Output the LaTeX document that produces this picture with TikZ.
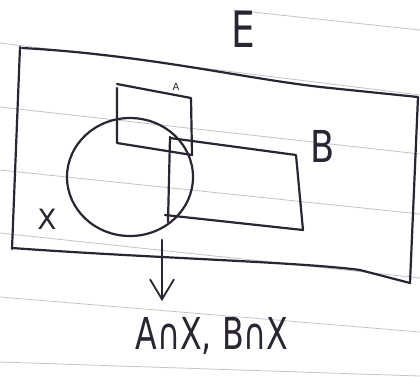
\documentclass[tikz,border=0pt]{standalone}
\usepackage{fontspec}
\setmainfont{DejaVu Sans}
\usetikzlibrary{arrows.meta,shapes.geometric}
\definecolor{ink}{HTML}{2B2433}
\definecolor{rule}{HTML}{9A9AA8}
\begin{document}
\begin{tikzpicture}[x=1pt,y=-1pt,
  pen/.style={draw=ink,line width=2.2pt,line join=round,line cap=round},
  ruled/.style={draw=rule,line width=0.8pt,opacity=0.6},
  lbl/.style={text=ink,inner sep=0pt}]
\useasboundingbox (0,0) rectangle (420,376);
% ruled paper lines
\draw[ruled] (233,10) -- (420,30);
\draw[ruled] (0,43) -- (420,95);
\draw[ruled] (0,107) -- (420,154);
\draw[ruled] (0,170) -- (420,214);
\draw[ruled] (0,233) -- (420,278);
\draw[ruled] (0,297) -- (420,332);
\draw[ruled] (0,362) -- (420,376);
% universe E
\draw[pen] (20,47) -- (12,249);
\draw[pen] (22,48) .. controls (150,55) and (250,80) .. (330,88) -- (418,97) -- (410,283);
\draw[pen] (12,248) .. controls (150,258) and (300,262) .. (360,270) -- (410,283);
% rectangle A
\draw[pen] (117,88) -- (117,143) -- (192,155) -- (191,98) -- (117,84);
% rectangle B
\draw[pen] (170,137) -- (168,222);
\draw[pen] (170,138) -- (296,155) -- (303,230) -- (165,215);
% circle X
\node[pen,ellipse,minimum width=126pt,minimum height=118pt,inner sep=0pt] (X) at (130,177) {};
% labels
\node[lbl,font=\fontsize{50}{50}\selectfont,xscale=0.75] (E) at (243,29) {E};
\node[lbl,font=\fontsize{10}{10}\selectfont] (la) at (176,87) {A};
\node[lbl,font=\fontsize{44}{44}\selectfont,xscale=0.8] (lb) at (323,146) {B};
\node[lbl,font=\fontsize{28}{28}\selectfont] (lx) at (47,219) {X};
\node[lbl,font=\fontsize{44}{44}\selectfont,xscale=0.72] (res) at (212,336) {A∩X, B∩X};
\coordinate (s) at (162,240);
\coordinate (t) at (162,301);
\draw[pen,-{Straight Barb[length=20pt,width=24pt,line width=1.8pt]}] (s) -- (t);
\end{tikzpicture}
\end{document}
